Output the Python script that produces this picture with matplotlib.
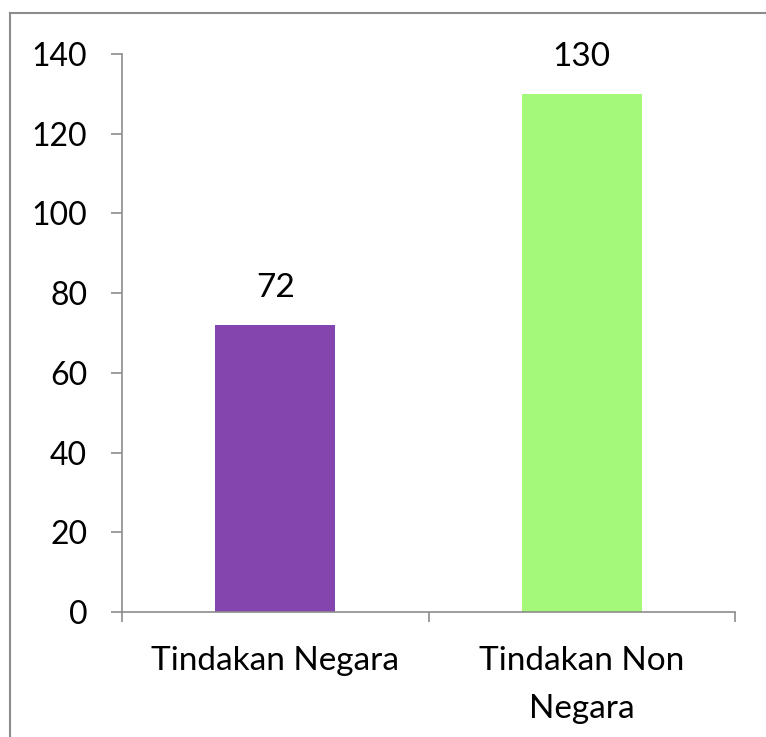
import matplotlib
matplotlib.use("Agg")
import matplotlib.pyplot as plt
from matplotlib.lines import Line2D

categories = ["Tindakan Negara", "Tindakan Non\nNegara"]
values = [72, 130]
bar_colors = ["#8446AE", "#A4F97A"]
yticks = [0, 20, 40, 60, 80, 100, 120, 140]

plt.rcParams['font.family'] = ['Lato', 'DejaVu Sans']

fig = plt.figure(figsize=(7.66, 7.37), dpi=100)
ax = fig.add_axes([122/766, 1-612/737, (735-122)/766, (612-54)/737])

x = list(range(len(categories)))
ax.bar(x, values, width=0.39, color=bar_colors)
ax.set_xlim(-0.5, len(categories) - 0.5)
ax.set_ylim(0, 140)
ax.set_yticks(yticks)
ax.set_yticklabels([str(t) for t in yticks], fontsize=23)
ax.tick_params(axis='y', length=8, width=1.2, color='#8c8c8c', pad=17, direction='out')

ax.set_xticks([-0.5 + i for i in range(len(categories) + 1)])
ax.set_xticklabels([])
ax.tick_params(axis='x', length=7, width=1.2, color='#8c8c8c', direction='out')
for i, c in enumerate(categories):
    ax.text(i, -8.5, c, ha='center', va='top', fontsize=24, linespacing=1.75,
            transform=ax.transData, clip_on=False)

for i, v in enumerate(values):
    ax.text(i, v + 5.5, str(v), ha='center', va='bottom', fontsize=24)

for s in ['top', 'right']:
    ax.spines[s].set_visible(False)
for s in ['left', 'bottom']:
    ax.spines[s].set_color('#8c8c8c')
    ax.spines[s].set_linewidth(1.2)

# figure border (top and left visible)
fig.add_artist(Line2D([10/766, 1], [1-13/737, 1-13/737], color='#8c8c8c', lw=1.5, transform=fig.transFigure))
fig.add_artist(Line2D([10/766, 10/766], [0, 1-13/737], color='#8c8c8c', lw=1.5, transform=fig.transFigure))

fig.savefig("out.png", dpi=100)
